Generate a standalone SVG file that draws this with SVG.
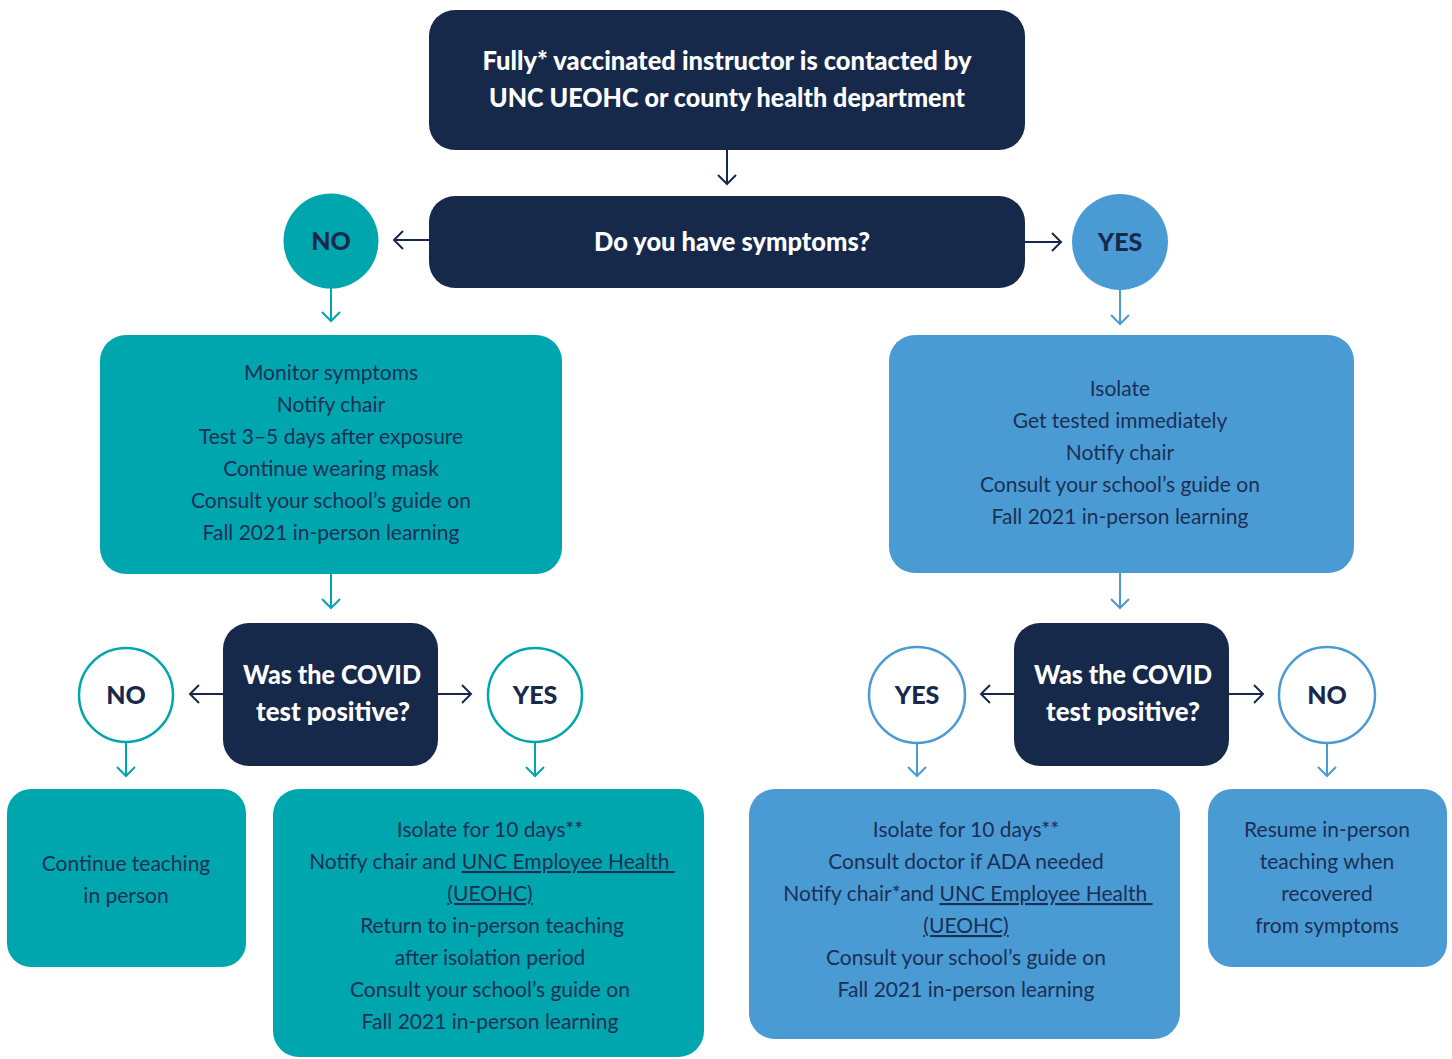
<svg xmlns="http://www.w3.org/2000/svg" width="1452" height="1059" viewBox="0 0 1452 1059">
<style>
.navy{fill:#17294b}
.teal{fill:#00a6ae}
.blue{fill:#4a9bd3}
.title{font-family:Lato,"Liberation Sans",sans-serif;font-weight:900;font-size:26px;fill:#ffffff;text-anchor:middle}
.lbl{font-family:Lato,"Liberation Sans",sans-serif;font-weight:900;font-size:25px;fill:#17294b;text-anchor:middle}
.body{font-family:Lato,"Liberation Sans",sans-serif;font-size:21px;fill:#1b2f55;text-anchor:middle;white-space:pre}
.u{text-decoration:underline}
.ln{fill:none;stroke-width:2}
.ring{fill:#ffffff;stroke-width:2.5}
</style>
<defs>
<marker id="mN" viewBox="-12 -12 24 24" refX="0" refY="0" markerWidth="24" markerHeight="24" markerUnits="userSpaceOnUse" orient="auto"><path d="M-9,-9 L0,0 L-9,9" fill="none" stroke="#17294b" stroke-width="2"/></marker>
<marker id="mT" viewBox="-12 -12 24 24" refX="0" refY="0" markerWidth="24" markerHeight="24" markerUnits="userSpaceOnUse" orient="auto"><path d="M-9,-9 L0,0 L-9,9" fill="none" stroke="#00a6ae" stroke-width="2"/></marker>
<marker id="mB" viewBox="-12 -12 24 24" refX="0" refY="0" markerWidth="24" markerHeight="24" markerUnits="userSpaceOnUse" orient="auto"><path d="M-9,-9 L0,0 L-9,9" fill="none" stroke="#4a9bd3" stroke-width="2"/></marker>
</defs>
<rect width="1452" height="1059" fill="#ffffff"/>

<g id="connectors">
<line class="ln" stroke="#17294b" x1="727" y1="150" x2="727" y2="184" marker-end="url(#mN)"/>
<line class="ln" stroke="#17294b" x1="429" y1="240" x2="394" y2="240" marker-end="url(#mN)"/>
<line class="ln" stroke="#17294b" x1="1025" y1="242" x2="1061" y2="242" marker-end="url(#mN)"/>
<line class="ln" stroke="#00a6ae" x1="331" y1="288" x2="331" y2="321" marker-end="url(#mT)"/>
<line class="ln" stroke="#4a9bd3" x1="1120" y1="290" x2="1120" y2="324" marker-end="url(#mB)"/>
<line class="ln" stroke="#00a6ae" x1="331" y1="574" x2="331" y2="608" marker-end="url(#mT)"/>
<line class="ln" stroke="#4a9bd3" x1="1120" y1="573" x2="1120" y2="608" marker-end="url(#mB)"/>
<line class="ln" stroke="#17294b" x1="223" y1="694" x2="190" y2="694" marker-end="url(#mN)"/>
<line class="ln" stroke="#17294b" x1="438" y1="694" x2="471" y2="694" marker-end="url(#mN)"/>
<line class="ln" stroke="#17294b" x1="1014" y1="694" x2="981" y2="694" marker-end="url(#mN)"/>
<line class="ln" stroke="#17294b" x1="1229" y1="694" x2="1263" y2="694" marker-end="url(#mN)"/>
<line class="ln" stroke="#00a6ae" x1="126" y1="743" x2="126" y2="776" marker-end="url(#mT)"/>
<line class="ln" stroke="#00a6ae" x1="535" y1="743" x2="535" y2="776" marker-end="url(#mT)"/>
<line class="ln" stroke="#4a9bd3" x1="917" y1="743" x2="917" y2="776" marker-end="url(#mB)"/>
<line class="ln" stroke="#4a9bd3" x1="1327" y1="743" x2="1327" y2="776" marker-end="url(#mB)"/>
</g>

<g id="start">
<rect class="navy" x="429" y="10" width="596" height="140" rx="26"/>
<text class="title" x="727" y="70" textLength="489" lengthAdjust="spacingAndGlyphs">Fully* vaccinated instructor is contacted by</text>
<text class="title" x="727" y="107" textLength="476" lengthAdjust="spacingAndGlyphs">UNC UEOHC or county health department</text>
</g>

<g id="q-symptoms">
<rect class="navy" x="429" y="196" width="596" height="92" rx="26"/>
<text class="title" x="732" y="251" textLength="276" lengthAdjust="spacingAndGlyphs">Do you have symptoms?</text>
</g>

<g id="no-symptoms">
<circle class="teal" cx="331" cy="241" r="47.5"/>
<text class="lbl" x="331" y="250">NO</text>
</g>

<g id="yes-symptoms">
<circle class="blue" cx="1120" cy="242" r="48"/>
<text class="lbl" x="1120" y="251">YES</text>
</g>

<g id="monitor">
<rect class="teal" x="100" y="335" width="462" height="239" rx="26"/>
<text class="body" x="331" y="380">Monitor symptoms</text>
<text class="body" x="331" y="412">Notify chair</text>
<text class="body" x="331" y="444">Test 3–5 days after exposure</text>
<text class="body" x="331" y="476">Continue wearing mask</text>
<text class="body" x="331" y="508">Consult your school’s guide on</text>
<text class="body" x="331" y="540">Fall 2021 in-person learning</text>
</g>

<g id="isolate">
<rect class="blue" x="889" y="335" width="465" height="238" rx="26"/>
<text class="body" x="1120" y="396">Isolate</text>
<text class="body" x="1120" y="428">Get tested immediately</text>
<text class="body" x="1120" y="460">Notify chair</text>
<text class="body" x="1120" y="492">Consult your school’s guide on</text>
<text class="body" x="1120" y="524">Fall 2021 in-person learning</text>
</g>

<g id="q-test-left">
<rect class="navy" x="223" y="623" width="215" height="143" rx="26"/>
<text class="title" x="332" y="684" textLength="178" lengthAdjust="spacingAndGlyphs">Was the COVID</text>
<text class="title" x="333" y="721" textLength="154" lengthAdjust="spacingAndGlyphs">test positive?</text>
</g>

<g id="q-test-right">
<rect class="navy" x="1014" y="623" width="215" height="143" rx="26"/>
<text class="title" x="1123" y="684" textLength="178" lengthAdjust="spacingAndGlyphs">Was the COVID</text>
<text class="title" x="1123" y="721" textLength="154" lengthAdjust="spacingAndGlyphs">test positive?</text>
</g>

<g id="left-no">
<circle class="ring" stroke="#00a6ae" cx="126" cy="695" r="47"/>
<text class="lbl" x="126" y="704">NO</text>
</g>
<g id="left-yes">
<circle class="ring" stroke="#00a6ae" cx="535" cy="695" r="47"/>
<text class="lbl" x="535" y="704">YES</text>
</g>
<g id="right-yes">
<circle class="ring" stroke="#4a9bd3" cx="917" cy="695" r="48"/>
<text class="lbl" x="917" y="704">YES</text>
</g>
<g id="right-no">
<circle class="ring" stroke="#4a9bd3" cx="1327" cy="695" r="48"/>
<text class="lbl" x="1327" y="704">NO</text>
</g>

<g id="continue">
<rect class="teal" x="7" y="789" width="239" height="178" rx="24"/>
<text class="body" x="126" y="871">Continue teaching</text>
<text class="body" x="126" y="903">in person</text>
</g>

<g id="isolate-left">
<rect class="teal" x="273" y="789" width="431" height="268" rx="26"/>
<text class="body" x="490" y="837">Isolate for 10 days**</text>
<text class="body" x="492" y="869">Notify chair and <tspan class="u">UNC Employee Health </tspan></text>
<text class="body" x="490" y="901"><tspan class="u">(UEOHC)</tspan></text>
<text class="body" x="492" y="933">Return to in-person teaching</text>
<text class="body" x="490" y="965">after isolation period</text>
<text class="body" x="490" y="997">Consult your school’s guide on</text>
<text class="body" x="490" y="1029">Fall 2021 in-person learning</text>
</g>

<g id="isolate-right">
<rect class="blue" x="749" y="789" width="431" height="250" rx="26"/>
<text class="body" x="966" y="837">Isolate for 10 days**</text>
<text class="body" x="966" y="869">Consult doctor if ADA needed</text>
<text class="body" x="968" y="901">Notify chair*and <tspan class="u">UNC Employee Health </tspan></text>
<text class="body" x="966" y="933"><tspan class="u">(UEOHC)</tspan></text>
<text class="body" x="966" y="965">Consult your school’s guide on</text>
<text class="body" x="966" y="997">Fall 2021 in-person learning</text>
</g>

<g id="resume">
<rect class="blue" x="1208" y="789" width="239" height="178" rx="24"/>
<text class="body" x="1327" y="837">Resume in-person</text>
<text class="body" x="1327" y="869">teaching when</text>
<text class="body" x="1327" y="901">recovered</text>
<text class="body" x="1327" y="933">from symptoms</text>
</g>
</svg>
